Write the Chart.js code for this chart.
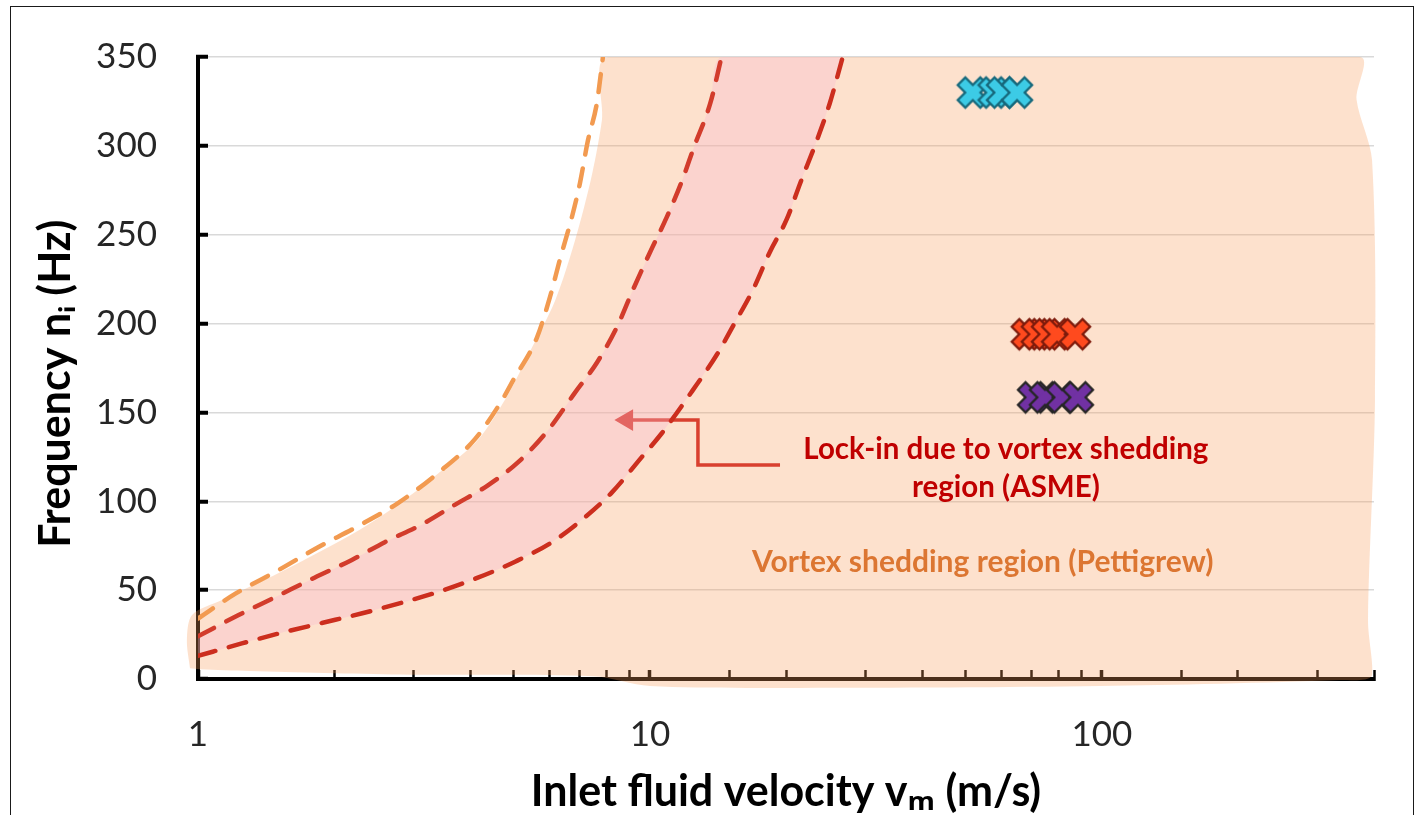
<!DOCTYPE html>
<html>
<head>
<meta charset="utf-8">
<title>Vortex shedding map</title>
<script src="https://cdn.jsdelivr.net/npm/chart.js@4.4.1/dist/chart.umd.min.js"></script>
<style>
    html, body { margin: 0; padding: 0; background: #fff; overflow: hidden; }
    #moldura { position: absolute; left: 10px; top: 6px; width: 1402px; height: 840px; border: 1.5px solid #1a1a1a; }
    #area { position: absolute; left: 0; top: 0; width: 1423px; height: 815px; }
</style>
</head>
<body>
<div id="moldura"></div>
<div id="area"><canvas id="grafico" width="1423" height="815"></canvas></div>
<script>
// Pettigrew limit (orange dashed) - velocity (m/s) / frequency (Hz)
const pettigrewV = [1.0, 1.21, 1.50, 1.84, 2.26, 2.77, 3.40, 4.10, 4.71, 4.98, 5.62, 6.01, 6.32, 6.72, 7.00, 7.29, 7.63, 7.87];
const pettigrewF = [34, 48, 61, 74, 86, 99, 116, 135, 157, 168, 192, 215, 236, 260, 279, 303, 324, 350];

// ASME lock-in limits (red dashed)
const asmeAltoV = [1.0, 1.23, 1.48, 1.81, 2.19, 2.59, 3.13, 3.70, 4.38, 5.11, 5.95, 6.82, 7.63, 8.45, 9.17, 10.0, 10.9, 11.8, 12.5, 13.6, 14.4];
const asmeAltoF = [24, 36, 46, 57, 67, 77, 87, 98, 109, 122, 140, 161, 178, 198, 219, 240, 260, 281, 299, 324, 350];
const asmeBaixoV = [1.0, 1.25, 1.53, 1.88, 2.31, 2.83, 3.40, 4.16, 5.03, 6.07, 7.18, 8.24, 9.60, 10.6, 12.4, 14.1, 15.3, 16.9, 18.4, 20.1, 21.5, 23.4, 25.0, 26.7];
const asmeBaixoF = [13, 20, 26, 31.5, 37, 43, 49, 57, 66, 77, 91, 105, 125, 138, 162, 183, 199, 219, 240, 259, 279, 303, 324, 350];
const asmeTopoV = [14.4, 26.7];

// Pettigrew shaded region outline (hand drawn)
const regiaoV = [0.96, 0.945, 0.97, 1.12, 1.52, 2.28, 2.8, 3.43, 4.16, 4.85, 5.42, 6.17, 6.83, 7.44, 7.83, 8.08, 372, 366, 396, 402, 388, 396, 336, 99, 21.5, 10, 7.5, 2.8, 1.3, 1.01];
const regiaoF = [6, 22, 36, 44, 60, 84, 99, 116.5, 134.5, 160, 184, 213, 247, 283.6, 314.5, 350, 350, 326, 292, 157, 33, 2, -0.6, -4, -5, -4, 1.5, 2.5, 4.5, 5.5];

// measured modes
const cianoV = [51.8, 57.6, 60.1, 64.9];
const cianoF = [330, 330, 330, 330];
const vermelhoV = [68.2, 71.8, 75.6, 79.6, 87.2];
const vermelhoF = [194, 194, 194, 194, 194];
const roxoV = [70.4, 74.8, 81.6, 88.5];
const roxoF = [158.5, 158.5, 158.5, 158.5];

// arrow pointing into the lock-in band
const setaV = [19.4, 12.77, 12.77, 8.89];
const setaF = [120.4, 120.4, 145.7, 145.7];

const ticksY = [0, 50, 100, 150, 200, 250, 300, 350];
const rotulosX = [1, 10, 100];

const notas = [
    { texto: 'Lock-in due to vortex shedding', v: 61.3, f: 129.4, cor: '#c00000', tam: 29.5 },
    { texto: 'region (ASME)', v: 61.3, f: 108, cor: '#c00000', tam: 29.5 },
    { texto: 'Vortex shedding region (Pettigrew)', v: 54.5, f: 65.8, cor: '#dc7632', tam: 30 }
];

const FONTE = 'Lato, "Open Sans", sans-serif';

function pontos(vs, fs) {
    return vs.map((v, i) => ({ x: v, y: fs[i] }));
}

// marcador em X grosso, como no Excel
function criarX(preenchimento, borda) {
    const s = 38, a = 8.5, b = 29.5, e = 1.6;
    const c = document.createElement('canvas');
    c.width = s; c.height = s;
    const g = c.getContext('2d');
    const traco = (x1, y1, x2, y2) => { g.beginPath(); g.moveTo(x1, y1); g.lineTo(x2, y2); g.stroke(); };
    g.lineCap = 'butt';
    g.strokeStyle = borda; g.lineWidth = 13;
    traco(a - e, a - e, b + e, b + e); traco(b + e, a - e, a - e, b + e);
    g.strokeStyle = preenchimento; g.lineWidth = 8.5;
    traco(a, a, b, b); traco(b, a, a, b);
    return c;
}

// deixa as áreas sombreadas passarem um pouco dos eixos
const liberaArea = {
    id: 'liberaArea',
    beforeDatasetsDraw(chart) {
        chart._areaOriginal = chart.chartArea;
        chart.chartArea = { left: 0, top: 0, right: chart.width, bottom: chart.height, width: chart.width, height: chart.height };
    },
    afterDatasetsDraw(chart) {
        chart.chartArea = chart._areaOriginal;
    }
};

const anotacoes = {
    id: 'anotacoes',
    afterDraw(chart) {
        const { ctx } = chart;
        const x = chart.scales.x, y = chart.scales.y;
        ctx.save();
        ctx.textAlign = 'center';
        ctx.textBaseline = 'middle';
        notas.forEach(n => {
            ctx.font = `bold ${n.tam}px ${FONTE}`;
            ctx.fillStyle = n.cor;
            ctx.fillText(n.texto, x.getPixelForValue(n.v), y.getPixelForValue(n.f));
        });
        ctx.restore();
    }
};

function criarGrafico() {
    const ctx = document.getElementById('grafico');
    const faixaAsme = pontos(asmeAltoV, asmeAltoF)
        .concat([{ x: asmeTopoV[1], y: 350 }])
        .concat(pontos(asmeBaixoV, asmeBaixoF).reverse());

    const tracejado = {
        type: 'line', fill: false, pointRadius: 0, borderWidth: 4.5,
        borderDash: [18, 14], borderCapStyle: 'round', cubicInterpolationMode: 'monotone', order: 1
    };

    new Chart(ctx, {
        type: 'line',
        data: {
            datasets: [
                { label: 'Cyan', data: pontos(cianoV, cianoF), showLine: false, pointStyle: criarX('#3ccbe6', '#17697c'), pointRadius: 16, order: 0 },
                { label: 'Red', data: pontos(vermelhoV, vermelhoF), showLine: false, pointStyle: criarX('#ff4a1e', '#7e1b0c'), pointRadius: 16, order: 0 },
                { label: 'Purple', data: pontos(roxoV, roxoF), showLine: false, pointStyle: criarX('#7131a3', '#262626'), pointRadius: 16, order: 0 },
                { ...tracejado, label: 'Pettigrew', data: pontos(pettigrewV, pettigrewF), borderColor: '#f29a50' },
                { ...tracejado, label: 'ASME upper', data: pontos(asmeAltoV, asmeAltoF), borderColor: '#d23c2c' },
                { ...tracejado, label: 'ASME lower', data: pontos(asmeBaixoV, asmeBaixoF), borderColor: '#cc2e1e' },
                { label: 'Lock-in region', data: faixaAsme, fill: 'shape', borderWidth: 0, pointRadius: 0,
                  backgroundColor: 'rgba(250, 182, 209, 0.32)', tension: 0.3, order: 2 },
                { label: 'Arrow', data: pontos(setaV, setaF), fill: false, borderColor: '#d9402f', backgroundColor: '#d9402f',
                  borderWidth: 3.5, pointRadius: [0, 0, 0, 9], pointStyle: 'triangle', pointRotation: -90, order: 3 },
                { label: 'Vortex shedding region', data: pontos(regiaoV, regiaoF), fill: 'shape', borderWidth: 0, pointRadius: 0,
                  backgroundColor: 'rgba(248, 155, 90, 0.3)', tension: 0.3, order: 4 }
            ]
        },
        options: {
            responsive: false,
            animation: false,
            layout: { padding: { left: 0, top: 57, right: 49, bottom: 0 } },
            plugins: {
                legend: { display: false },
                tooltip: { enabled: false }
            },
            scales: {
                x: {
                    type: 'logarithmic',
                    min: 1,
                    max: 400,
                    border: { color: '#000', width: 4 },
                    grid: {
                        drawOnChartArea: false,
                        drawTicks: true,
                        tickLength: -9,
                        tickColor: '#000',
                        tickWidth: c => (rotulosX.includes(c.tick && c.tick.value) ? 3.5 : 2.5)
                    },
                    ticks: {
                        autoSkip: false,
                        maxRotation: 0,
                        padding: 44,
                        color: '#262626',
                        font: { family: FONTE, size: 35 },
                        callback: v => (rotulosX.includes(v) ? String(v) : '')
                    },
                    title: {
                        display: true,
                        text: 'Inlet fluid velocity vₘ (m/s)',
                        color: '#000',
                        font: { family: FONTE, size: 43, weight: 'bold', lineHeight: 1 },
                        padding: { top: 0, bottom: 1 }
                    },
                    afterFit: s => { s.height = 136; }
                },
                y: {
                    min: 0,
                    max: 350,
                    afterBuildTicks: s => { s.ticks = ticksY.map(v => ({ value: v })); },
                    border: { color: '#000', width: 4 },
                    grid: {
                        color: '#d9d9d9',
                        lineWidth: 1.5,
                        drawTicks: true,
                        tickLength: -10,
                        tickColor: '#000',
                        tickWidth: 4
                    },
                    ticks: {
                        padding: 51,
                        color: '#262626',
                        font: { family: FONTE, size: 35 }
                    },
                    title: {
                        display: true,
                        text: 'Frequency nᵢ (Hz)\u00a0\u00a0\u00a0',
                        color: '#000',
                        font: { family: FONTE, size: 43, weight: 'bold', lineHeight: 1 },
                        padding: { top: 35, bottom: 0 }
                    },
                    afterFit: s => {
                        s.width = 198;
                        // o padding dos rótulos não deve empurrar a área do gráfico
                        s.paddingTop = 0;
                        s.paddingBottom = 0;
                    }
                }
            }
        },
        plugins: [liberaArea, anotacoes]
    });
}

Promise.all([
    document.fonts.load(`32px ${FONTE}`),
    document.fonts.load(`bold 32px ${FONTE}`)
]).catch(() => null).then(criarGrafico);
</script>
</body>
</html>
